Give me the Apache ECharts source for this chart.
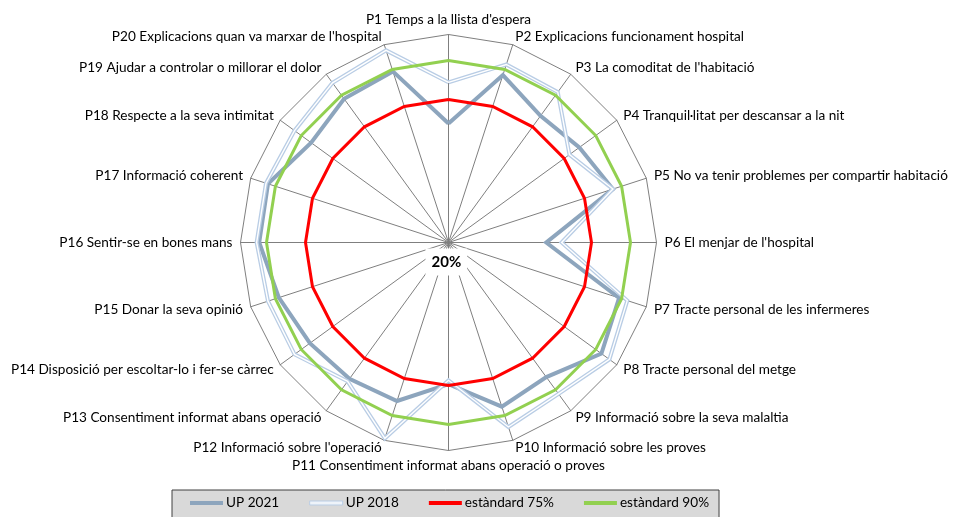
<!DOCTYPE html>
<html>
<head>
<meta charset="utf-8">
<style>
  html, body { margin: 0; padding: 0; background: #fff; }
  #chart { width: 957px; height: 517px; }
</style>
<script src="https://cdn.jsdelivr.net/npm/echarts@6/dist/echarts.min.js"></script>
</head>
<body>
<div id="chart"></div>
<script>
(function () {
  'use strict';

  // ── Data (clockwise from top, as in the picture) ──

  var indicators = [
    'P1 Temps a la llista d\'espera',
    'P2 Explicacions funcionament hospital',
    'P3 La comoditat de l\'habitació',
    'P4 Tranquil·litat per descansar a la nit',
    'P5 No va tenir problemes per compartir habitació',
    'P6 El menjar de l\'hospital',
    'P7 Tracte personal de les infermeres',
    'P8 Tracte personal del metge',
    'P9 Informació sobre la seva malaltia',
    'P10 Informació sobre les proves',
    'P11 Consentiment informat abans operació o proves',
    'P12 Informació sobre l\'operació',
    'P13 Consentiment informat abans operació',
    'P14 Disposició per escoltar-lo i fer-se càrrec',
    'P15 Donar la seva opinió',
    'P16 Sentir-se en bones mans',
    'P17 Informació coherent',
    'P18 Respecte a la seva intimitat',
    'P19 Ajudar a controlar o millorar el dolor',
    'P20 Explicacions quan va marxar de l\'hospital'
  ];

  var up2021 = [65.8, 87.7, 80.2, 82.2, 86.5, 57.6, 89.0, 92.7, 84.0, 86.4,
                74.5, 84.1, 84.8, 85.9, 88.6, 92.8, 93.0, 85.3, 88.3, 89.2];
  var up2018 = [81.6, 92.0, 91.5, 77.5, 86.5, 63.5, 92.3, 96.5, 92.0, 94.6,
                73.0, 99.2, 86.0, 93.2, 93.0, 93.8, 93.8, 93.2, 95.9, 97.7];
  var std75 = [75, 75, 75, 75, 75, 75, 75, 75, 75, 75,
               75, 75, 75, 75, 75, 75, 75, 75, 75, 75];
  var std90 = [90, 90, 90, 90, 90, 90, 90, 90, 90, 90,
               90, 90, 90, 90, 90, 90, 90, 90, 90, 90];

  var axisMin = 20;
  var axisMax = 100;
  var axisMinLabel = '20%';
  var legendNames = ['UP 2021', 'UP 2018', 'estàndard 75%', 'estàndard 90%'];

  // ── Styling ──

  var FONT = 'Lato, "Open Sans", sans-serif';
  var FS = 13.6;
  var GRID = '#7f7f7f';
  var C = {
    up2021: '#8da5bd',
    up2018: '#b9cde5',
    red: '#ff0000',
    green: '#92d050'
  };
  var CX = 448.5, CY = 242.5, R = 208;

  // ECharts lays radar axes out counter-clockwise; reorder to get clockwise
  var order = [0];
  for (var i = indicators.length - 1; i >= 1; i--) order.push(i);
  function ro(arr) { return order.map(function (k) { return arr[k]; }); }

  function item(name, values, color, width) {
    return {
      name: name,
      value: ro(values),
      symbol: 'none',
      itemStyle: { color: color },
      lineStyle: { color: color, width: width, join: 'miter' }
    };
  }

  var chart = echarts.init(document.getElementById('chart'), null, { renderer: 'canvas' });
  chart.setOption({
    animation: false,
    backgroundColor: '#fff',
    legend: {
      data: [
        { name: legendNames[0], itemStyle: { color: C.up2021 } },
        { name: legendNames[1], itemStyle: { color: '#eef3f9', borderColor: C.up2018, borderWidth: 1 } },
        { name: legendNames[2], itemStyle: { color: C.red } },
        { name: legendNames[3], itemStyle: { color: C.green } }
      ],
      icon: 'rect',
      left: 172,
      top: 490,
      padding: [6, 10, 8, 18],
      itemGap: 30,
      itemWidth: 33,
      itemHeight: 4,
      backgroundColor: '#d9d9d9',
      borderColor: '#404040',
      borderWidth: 1,
      selectedMode: false,
      textStyle: { color: '#000', fontSize: FS, fontFamily: FONT, padding: [0, 0, 0, -2] }
    },
    radar: {
      center: [CX, CY],
      radius: R,
      startAngle: 90,
      shape: 'polygon',
      splitNumber: 1,
      nameGap: 8,
      indicator: ro(indicators).map(function (n) { return { name: n, min: axisMin, max: axisMax }; }),
      axisName: { color: '#000', fontSize: FS, fontFamily: FONT },
      axisLine: { lineStyle: { color: GRID, width: 1 } },
      splitLine: { lineStyle: { color: GRID, width: 1 } },
      splitArea: { show: false },
      axisTick: { show: false },
      axisLabel: { show: false }
    },
    series: [{
      type: 'radar',
      silent: true,
      data: [
        item(legendNames[0], up2021, C.up2021, 4),
        item(legendNames[1], up2018, C.up2018, 4),
        item('UP 2018 inner', up2018, '#ffffff', 1.4),
        item(legendNames[2], std75, C.red, 3),
        item(legendNames[3], std90, C.green, 3)
      ]
    }],
    graphic: [{
      type: 'text',
      z: 100,
      left: CX - 23,
      top: CY + 6,
      style: {
        text: axisMinLabel,
        fill: '#000',
        font: 'bold 15px ' + FONT,
        backgroundColor: '#fff',
        padding: [6, 6, 6, 6]
      }
    }]
  });
})();
</script>
</body>
</html>
